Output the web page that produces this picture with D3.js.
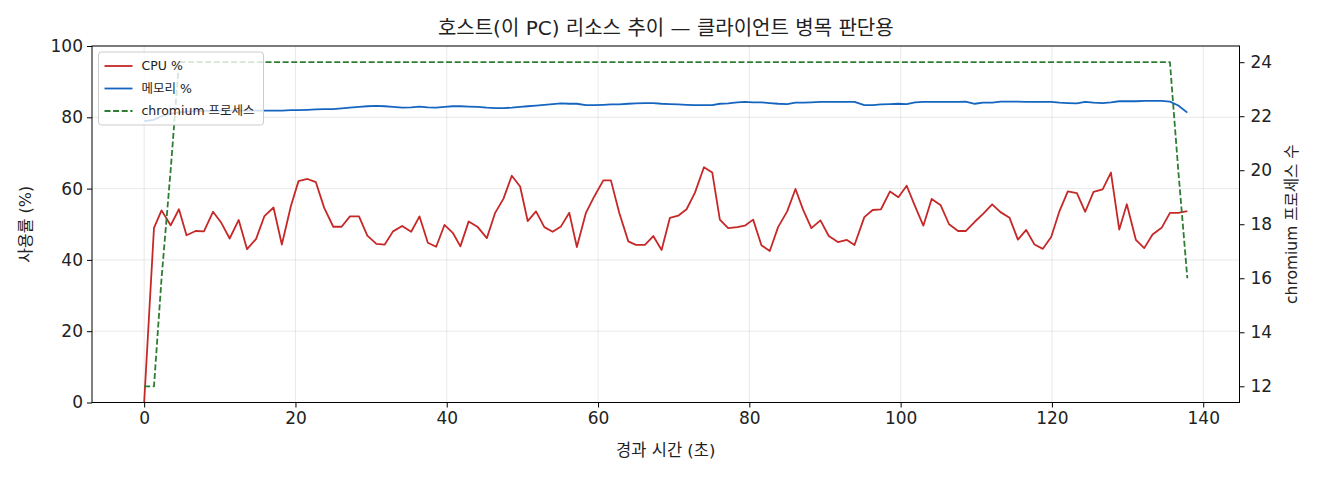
<!DOCTYPE html>
<html>
<head>
<meta charset="utf-8">
<script src="https://cdn.jsdelivr.net/npm/d3@7"></script>
<style>
  body { margin: 0; background: #fff; }
  svg text { font-family: "DejaVu Sans", "Noto Sans CJK KR", sans-serif; fill: #222; }
</style>
</head>
<body>
<div id="chart"></div>
<script>
// elapsed time (s) of each sample
const elapsed = [
  0, 1.3, 2.3, 3.5, 4.6, 5.6, 6.8, 7.9, 9.1, 10.2, 11.3, 12.5, 13.6, 14.8, 15.9, 17.1,
  18.2, 19.4, 20.4, 21.6, 22.7, 23.8, 25.0, 26.1, 27.2, 28.4, 29.5, 30.7, 31.8, 32.9,
  34.1, 35.3, 36.4, 37.5, 38.6, 39.7, 40.8, 41.8, 42.9, 44.1, 45.3, 46.4, 47.5, 48.6,
  49.7, 50.7, 51.8, 52.9, 54.0, 55.1, 56.2, 57.2, 58.4, 59.5, 60.7, 61.7, 62.8, 64.0,
  65.0, 66.2, 67.3, 68.4, 69.5, 70.6, 71.7, 72.8, 74.0, 75.1, 76.1, 77.2, 78.4, 79.4,
  80.5, 81.6, 82.7, 83.8, 85.0, 86.1, 87.1, 88.2, 89.4, 90.5, 91.7, 92.9, 93.9, 95.2,
  96.3, 97.4, 98.6, 99.7, 100.8, 101.9, 103.0, 104.1, 105.3, 106.4, 107.6, 108.6,
  109.8, 110.9, 112.1, 113.2, 114.4, 115.5, 116.6, 117.7, 118.8, 119.9, 121.0, 122.1,
  123.3, 124.4, 125.5, 126.7, 127.8, 128.9, 129.9, 131.1, 132.2, 133.3, 134.5, 135.6,
  136.7, 137.9
];

const cpu = [
  0, 49.0, 53.9, 49.7, 54.2, 46.9, 48.1, 48.0, 53.5, 50.4, 46.0, 51.2, 43.0, 45.9, 52.3,
  54.7, 44.3, 55.1, 62.1, 62.7, 61.8, 54.6, 49.3, 49.3, 52.2, 52.2, 46.8, 44.5, 44.3,
  48.0, 49.5, 47.9, 52.2, 44.8, 43.7, 49.8, 47.6, 43.8, 50.8, 49.2, 46.1, 53.2, 57.2,
  63.6, 60.6, 50.9, 53.6, 49.2, 47.9, 49.4, 53.2, 43.6, 53.2, 57.8, 62.3, 62.3, 53.2,
  45.2, 44.2, 44.2, 46.7, 42.8, 51.8, 52.4, 54.2, 58.8, 66.0, 64.5, 51.3, 48.9, 49.2,
  49.6, 51.3, 44.1, 42.5, 49.2, 53.6, 59.9, 54.1, 48.9, 51.1, 46.7, 45.0, 45.6, 44.2,
  52.0, 54.0, 54.2, 59.2, 57.6, 60.8, 55.1, 49.6, 57.1, 55.3, 50.0, 48.1, 48.1, 50.7,
  52.9, 55.6, 53.4, 51.8, 45.7, 48.4, 44.3, 43.1, 46.4, 53.7, 59.2, 58.7, 53.5, 59.1,
  59.8, 64.5, 48.5, 55.6, 45.6, 43.3, 47.1, 49.0, 53.2, 53.2, 53.7
];

const memory = [
  78.9, 79.3, 80.3, 81.0, 81.4, 81.6, 81.7, 81.8, 81.8, 81.9, 81.9, 81.9, 81.9, 81.9,
  81.9, 81.9, 81.9, 82.0, 82.0, 82.1, 82.2, 82.3, 82.3, 82.5, 82.7, 82.9, 83.1, 83.2,
  83.1, 82.9, 82.7, 82.8, 83.0, 82.8, 82.7, 82.9, 83.1, 83.1, 83.0, 82.9, 82.7, 82.6,
  82.6, 82.7, 82.9, 83.1, 83.3, 83.5, 83.7, 83.9, 83.8, 83.8, 83.4, 83.4, 83.5, 83.6,
  83.6, 83.8, 83.9, 84.0, 84.0, 83.8, 83.7, 83.6, 83.5, 83.4, 83.4, 83.4, 83.8, 83.9,
  84.2, 84.3, 84.2, 84.2, 84.0, 83.8, 83.7, 84.1, 84.1, 84.2, 84.3, 84.3, 84.3, 84.3,
  84.3, 83.4, 83.4, 83.6, 83.7, 83.8, 83.7, 84.2, 84.3, 84.3, 84.3, 84.3, 84.3, 84.4,
  83.8, 84.1, 84.1, 84.4, 84.4, 84.4, 84.3, 84.3, 84.3, 84.3, 84.1, 84.0, 83.9, 84.3,
  84.1, 84.0, 84.2, 84.5, 84.5, 84.5, 84.6, 84.6, 84.6, 84.4, 83.3, 81.3
];

const chromium = [
  12, 12, 16, 20, 24, 24, 24, 24, 24, 24, 24, 24, 24, 24, 24, 24, 24, 24, 24, 24, 24,
  24, 24, 24, 24, 24, 24, 24, 24, 24, 24, 24, 24, 24, 24, 24, 24, 24, 24, 24, 24, 24,
  24, 24, 24, 24, 24, 24, 24, 24, 24, 24, 24, 24, 24, 24, 24, 24, 24, 24, 24, 24, 24,
  24, 24, 24, 24, 24, 24, 24, 24, 24, 24, 24, 24, 24, 24, 24, 24, 24, 24, 24, 24, 24,
  24, 24, 24, 24, 24, 24, 24, 24, 24, 24, 24, 24, 24, 24, 24, 24, 24, 24, 24, 24, 24,
  24, 24, 24, 24, 24, 24, 24, 24, 24, 24, 24, 24, 24, 24, 24, 24, 24, 20, 16
];

const xTicks = [0, 20, 40, 60, 80, 100, 120, 140];
const yTicks = [0, 20, 40, 60, 80, 100];
const y2Ticks = [12, 14, 16, 18, 20, 22, 24];

const series = [
  { name: "CPU %", values: cpu, axis: "left", color: "#c62828", dash: null },
  { name: "메모리 %", values: memory, axis: "left", color: "#1565c0", dash: null },
  { name: "chromium 프로세스", values: chromium, axis: "right", color: "#2e7d32", dash: "6,2.6" },
];

const width = 1320;
const height = 480;
const margin = { top: 46, right: 80.5, bottom: 77.5, left: 92 };

const svg = d3
  .select("#chart")
  .append("svg")
  .attr("width", width)
  .attr("height", height)
  .attr("viewBox", [0, 0, width, height]);

const tExt = d3.extent(elapsed);
const tPad = (tExt[1] - tExt[0]) * 0.05;
const x = d3
  .scaleLinear()
  .domain([tExt[0] - tPad, tExt[1] + tPad])
  .range([margin.left, width - margin.right]);

const y = d3.scaleLinear([0, 100], [height - margin.bottom, margin.top]);

const cExt = d3.extent(chromium);
const cPad = (cExt[1] - cExt[0]) * 0.05;
const y2 = d3.scaleLinear(
  [cExt[0] - cPad, cExt[1] + cPad],
  [height - margin.bottom, margin.top]
);

const plotW = width - margin.left - margin.right;
const plotH = height - margin.top - margin.bottom;

// grid
const grid = svg.append("g").attr("stroke", "#b0b0b0").attr("stroke-opacity", 0.35).attr("stroke-width", 0.8);
grid
  .selectAll("line.gx")
  .data(xTicks)
  .join("line")
  .attr("x1", (d) => x(d))
  .attr("x2", (d) => x(d))
  .attr("y1", margin.top)
  .attr("y2", height - margin.bottom);
grid
  .selectAll("line.gy")
  .data(yTicks)
  .join("line")
  .attr("x1", margin.left)
  .attr("x2", width - margin.right)
  .attr("y1", (d) => y(d))
  .attr("y2", (d) => y(d));

// lines
const plot = svg.append("g");
series.forEach((s) => {
  const yy = s.axis === "left" ? y : y2;
  const line = d3
    .line()
    .x((d, i) => x(elapsed[i]))
    .y((d) => yy(d));
  plot
    .append("path")
    .attr("fill", "none")
    .attr("stroke", s.color)
    .attr("stroke-width", 1.8)
    .attr("stroke-dasharray", s.dash)
    .attr("stroke-linejoin", "round")
    .attr("d", line(s.values));
});

// axes
const tickFont = 17;
svg
  .append("g")
  .attr("transform", `translate(0,${height - margin.bottom})`)
  .call(d3.axisBottom(x).tickValues(xTicks).tickSize(5).tickPadding(4).tickSizeOuter(0))
  .call((g) => g.select(".domain").remove())
  .call((g) => g.selectAll("text").attr("font-size", tickFont));

svg
  .append("g")
  .attr("transform", `translate(${margin.left},0)`)
  .call(d3.axisLeft(y).tickValues(yTicks).tickSize(5).tickPadding(4).tickSizeOuter(0))
  .call((g) => g.select(".domain").remove())
  .call((g) => g.selectAll("text").attr("font-size", tickFont));

svg
  .append("g")
  .attr("transform", `translate(${width - margin.right},0)`)
  .call(d3.axisRight(y2).tickValues(y2Ticks).tickSize(5).tickPadding(6).tickSizeOuter(0))
  .call((g) => g.select(".domain").remove())
  .call((g) => g.selectAll("text").attr("font-size", tickFont));

// frame
svg
  .append("rect")
  .attr("x", margin.left)
  .attr("y", margin.top)
  .attr("width", plotW)
  .attr("height", plotH)
  .attr("fill", "none")
  .attr("stroke", "#000")
  .attr("stroke-width", 1);

// labels
svg
  .append("text")
  .attr("x", margin.left + plotW / 2)
  .attr("y", 35)
  .attr("text-anchor", "middle")
  .attr("font-size", 20)
  .text("호스트(이 PC) 리소스 추이 — 클라이언트 병목 판단용");

svg
  .append("text")
  .attr("x", margin.left + plotW / 2)
  .attr("y", 456)
  .attr("text-anchor", "middle")
  .attr("font-size", 16.5)
  .text("경과 시간 (초)");

svg
  .append("text")
  .attr("transform", `translate(31,${margin.top + plotH / 2}) rotate(-90)`)
  .attr("text-anchor", "middle")
  .attr("font-size", 16)
  .text("사용률 (%)");

svg
  .append("text")
  .attr("transform", `translate(1297,${margin.top + plotH / 2}) rotate(-90)`)
  .attr("text-anchor", "middle")
  .attr("font-size", 15.5)
  .text("chromium 프로세스 수");

// legend
const legend = svg.append("g").attr("transform", "translate(98.5,52)");
legend
  .append("rect")
  .attr("width", 165)
  .attr("height", 73)
  .attr("rx", 3)
  .attr("fill", "#fff")
  .attr("fill-opacity", 0.8)
  .attr("stroke", "#ccc")
  .attr("stroke-width", 1);
const item = legend
  .selectAll("g.item")
  .data(series)
  .join("g")
  .attr("transform", (d, i) => `translate(0,${14 + i * 22.5})`);
item
  .append("line")
  .attr("x1", 6)
  .attr("x2", 34)
  .attr("stroke", (d) => d.color)
  .attr("stroke-width", 1.8)
  .attr("stroke-dasharray", (d) => d.dash);
item
  .append("text")
  .attr("x", 43)
  .attr("dy", "0.35em")
  .attr("font-size", 12.5)
  .text((d) => d.name);
</script>
</body>
</html>
